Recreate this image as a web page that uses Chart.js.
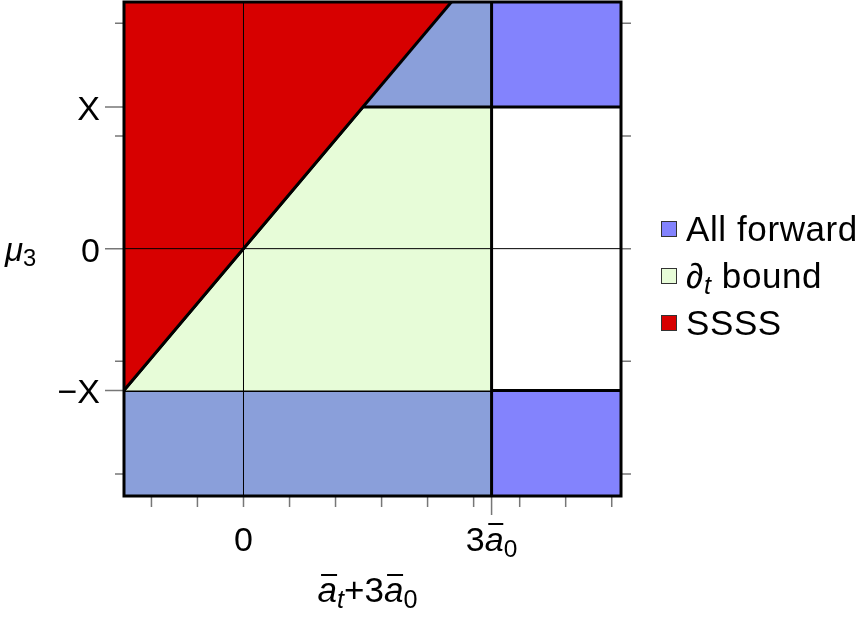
<!DOCTYPE html>
<html>
<head>
<meta charset="utf-8">
<script src="https://cdn.jsdelivr.net/npm/chart.js@4.4.1/dist/chart.umd.min.js"></script>
<style>
  body { margin: 0; background: #fff; font-family: "Liberation Sans", Arial, sans-serif; }
  #wrap { position: relative; width: 867px; height: 619px; }
  .lbl { position: absolute; font-size: 34px; line-height: 1; color: #000; white-space: nowrap; }
  .ov { position: relative; font-style: italic; }
  .ov::before { content: ''; position: absolute; left: 0.1em; right: 0; top: 0.1em; border-top: 2px solid #000; }
  sub { font-size: 0.72em; vertical-align: -0.25em; line-height: 0; }
  #legend { position: absolute; left: 661px; top: 205px; font-size: 35px; letter-spacing: 0.6px; }
  #legend div { height: 47px; display: flex; align-items: center; }
  #legend span.box { display: inline-block; width: 14px; height: 14px; border: 1.5px solid #333; margin-right: 9px; }
</style>
</head>
<body>
<div id="wrap">
  <canvas id="chart" width="867" height="619"></canvas>
  <div id="legend"></div>
</div>
<script>
// axis ranges (x in units of a0, y in units of X)
const xMin = -1.445, xMax = 4.565;
const yMin = -1.745, yMax = 1.74;

// region boundaries
const diagonal = [[-1.445, -1], [2.514, 1.74]];
const boundEdge = [[-1.445, -1], [1.445, 1], [3, 1]];
const topTriangle = [[1.445, 1], [2.514, 1.74], [3, 1.74]];
const lowerBand = [[-1.445, -1], [3, -1]];
const upperRight = [[3, 1], [4.565, 1]];
const lowerRight = [[3, -1], [4.565, -1]];
const verticalEdge = [[3, -1.745], [3, 1.74]];
const zeroX = [[0, -1.745], [0, 1.74]];
const zeroY = [[-1.445, 0], [4.565, 0]];

// ticks
const xMinorTicks = [-1.113, -0.557, 0, 0.557, 1.113, 1.67, 2.226, 2.783, 3.34, 3.896, 4.453];
const xMajorTicks = [3];
const xTickLabels = ['0', '3<span class="ov">a</span><sub>0</sub>'];
const xTickValues = [0, 3];
const yMinorTicks = [-1.59, -0.795, 0.795, 1.59];
const yMajorTicks = [-1, 0, 1];
const yTickLabels = ['\u2212X', '0', 'X'];
const yRightTicks = [-1.59, -0.795, 0, 0.795, 1.59];

const legendNames = ['All forward', '<i>\u2202<sub>t</sub></i>&nbsp;bound', 'SSSS'];

const grayBlue = '#8a9fda';
const blue = '#8383fd';
const green = '#e7fcd8';
const red = '#d70000';
const legendColors = [blue, green, red];

const pts = a => a.map(p => ({ x: p[0], y: p[1] }));

function line(data, color, width) {
  return { data: pts(data), showLine: true, borderColor: color, borderWidth: width, pointRadius: 0, fill: false };
}
function area(data, bg, fill, bw) {
  return { data: pts(data), showLine: true, borderColor: '#000', borderWidth: bw, pointRadius: 0, backgroundColor: bg, fill: fill };
}

const frameTicks = {
  id: 'frameTicks',
  afterDraw(chart) {
    const { ctx, chartArea: ca, scales: { x, y } } = chart;
    ctx.save();
    ctx.strokeStyle = '#777';
    ctx.lineWidth = 1.5;
    ctx.beginPath();
    xMinorTicks.forEach(v => { const px = x.getPixelForValue(v); ctx.moveTo(px, ca.bottom); ctx.lineTo(px, ca.bottom + 11); });
    xMajorTicks.forEach(v => { const px = x.getPixelForValue(v); ctx.moveTo(px, ca.bottom); ctx.lineTo(px, ca.bottom + 19); });
    yMinorTicks.forEach(v => { const py = y.getPixelForValue(v); ctx.moveTo(ca.left, py); ctx.lineTo(ca.left - 9, py); });
    yMajorTicks.forEach(v => { const py = y.getPixelForValue(v); ctx.moveTo(ca.left, py); ctx.lineTo(ca.left - 19, py); });
    yRightTicks.forEach(v => { const py = y.getPixelForValue(v); ctx.moveTo(ca.right, py); ctx.lineTo(ca.right + 10, py); });
    ctx.stroke();
    ctx.strokeStyle = '#000';
    ctx.lineWidth = 3;
    ctx.strokeRect(ca.left, ca.top, ca.right - ca.left, ca.bottom - ca.top);
    ctx.restore();
  }
};

const chart = new Chart(document.getElementById('chart'), {
  type: 'scatter',
  data: {
    datasets: [
      line(verticalEdge, '#000', 3),
      line(zeroX, '#000', 1),
      line(zeroY, '#000', 1),
      area(diagonal, red, 'end', 3),
      area(boundEdge, green, { value: -1 }, 3),
      area(topTriangle, grayBlue, { value: 1 }, 0),
      area(lowerBand, grayBlue, 'start', 3),
      area(upperRight, blue, 'end', 3),
      area(lowerRight, blue, 'start', 3)
    ]
  },
  options: {
    responsive: false,
    animation: false,
    devicePixelRatio: 1,
    layout: { padding: { left: 124, right: 246, top: 2, bottom: 123 } },
    plugins: { legend: { display: false }, tooltip: { enabled: false } },
    scales: {
      x: { type: 'linear', min: xMin, max: xMax, display: false },
      y: { type: 'linear', min: yMin, max: yMax, display: false }
    }
  },
  plugins: [frameTicks]
});

// text labels placed from the scales
const wrap = document.getElementById('wrap');
function addLabel(html, left, top, tx, ty, size) {
  const d = document.createElement('div');
  d.className = 'lbl';
  d.innerHTML = html;
  d.style.left = left + 'px';
  d.style.top = top + 'px';
  d.style.transform = 'translate(' + tx + ',' + ty + ')';
  if (size) d.style.fontSize = size + 'px';
  wrap.appendChild(d);
}
const sx = chart.scales.x, sy = chart.scales.y, ca = chart.chartArea;
yMajorTicks.forEach((v, i) => addLabel(yTickLabels[i], ca.left - 24, sy.getPixelForValue(v) + 1, '-100%', '-50%'));
xTickValues.forEach((v, i) => addLabel(xTickLabels[i], sx.getPixelForValue(v), ca.bottom + 26, '-50%', '0'));
addLabel('<i>\u03bc</i><sub>3</sub>', 5, sy.getPixelForValue(0), '0', '-50%', 33);
addLabel('<span class="ov">a</span><sub><i>t</i></sub>+3<span class="ov">a</span><sub>0</sub>', (ca.left + ca.right) / 2 - 5, 572, '-50%', '0', 35);

const legend = document.getElementById('legend');
legendNames.forEach((n, i) => {
  const row = document.createElement('div');
  row.innerHTML = '<span class="box" style="background:' + legendColors[i] + '"></span><span>' + n + '</span>';
  legend.appendChild(row);
});
</script>
</body>
</html>
